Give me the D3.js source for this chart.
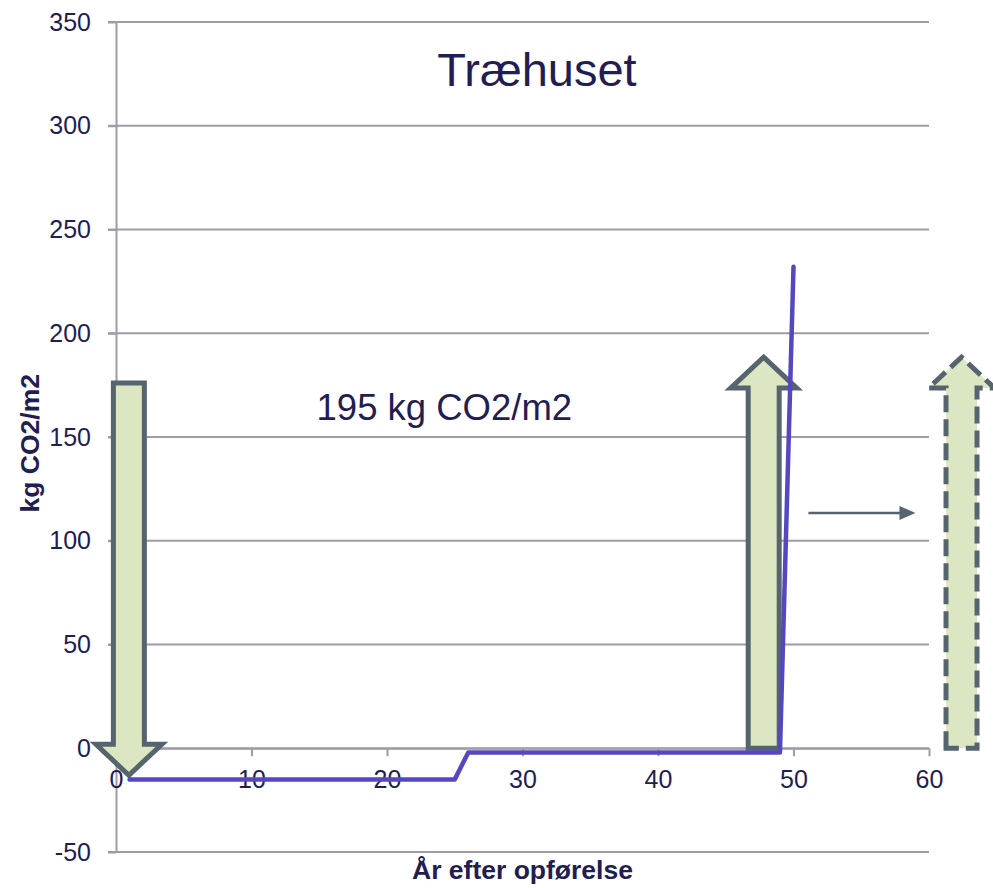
<!DOCTYPE html>
<html>
<head>
<meta charset="utf-8">
<script src="https://cdn.jsdelivr.net/npm/d3@7"></script>
<style>
  body { margin: 0; background: #fff; }
  svg { display: block; font-family: "Liberation Sans", Arial, sans-serif; }
</style>
</head>
<body>
<svg width="993" height="888"></svg>
<script>
// data
let years = [1, 25, 26, 49, 50];
let co2 = [-15, -15, -2, -2, 232];
let xTicks = [0, 10, 20, 30, 40, 50, 60];
let yTicks = [-50, 0, 50, 100, 150, 200, 250, 300, 350];

// block arrows: x centre, start value, end value (tip)
let arrowX = [0.95, 47.8, 62.4];
let arrowFrom = [176, 0, 0];
let arrowTo = [-13, 188.5, 188.5];
let arrowDashed = [false, false, true];

let svg = d3.select("svg"),
    width = +svg.attr("width"),
    height = +svg.attr("height");

let margin = {left: 116, right: 64, top: 22, bottom: 36};
let textColor = "#221d53",
    gridColor = "#9e9ca8",
    arrowStroke = "#56646e",
    arrowFill = "#dce6c3",
    lineColor = "#5548bf";

let x = d3.scaleLinear().domain([0, 60]).range([margin.left, width - margin.right]);
let y = d3.scaleLinear().domain([-50, 350]).range([height - margin.bottom, margin.top]);

// horizontal gridlines
svg.append("g")
    .selectAll("line")
    .data(yTicks)
    .enter().append("line")
    .attr("x1", x(0) - 8)
    .attr("x2", x(60))
    .attr("y1", d => y(d))
    .attr("y2", d => y(d))
    .attr("stroke", gridColor)
    .attr("stroke-width", 2);

// y axis (plain hyphen for negatives, like the original)
let yAxis = svg.append("g")
    .attr("transform", "translate(" + x(0) + ",0)")
    .call(d3.axisLeft(y).tickValues(yTicks).tickFormat(d => String(d))
        .tickSize(8).tickSizeOuter(0).tickPadding(17));

// x axis sits on zero
let xAxis = svg.append("g")
    .attr("transform", "translate(0," + y(0) + ")")
    .call(d3.axisBottom(x).tickValues(xTicks).tickFormat(d => String(d))
        .tickSize(8).tickSizeOuter(0).tickPadding(14));

[yAxis, xAxis].forEach(function(a) {
    a.select(".domain").attr("stroke", gridColor).attr("stroke-width", 2);
    a.selectAll(".tick line").attr("stroke", gridColor).attr("stroke-width", 2);
    a.selectAll(".tick text")
        .attr("fill", textColor)
        .style("font-size", "25px")
        .style("font-family", "'Liberation Sans', Arial, sans-serif");
});

// block arrows
let shaftHalf = 15.5, headHalf = 33, headLen = 31;

function blockArrow(i) {
    let cx = x(arrowX[i]), y0 = y(arrowFrom[i]), y1 = y(arrowTo[i]);
    let dir = y1 > y0 ? 1 : -1;
    let hb = y1 - dir * headLen;
    return "M" + (cx - shaftHalf) + "," + y0 +
        "L" + (cx - shaftHalf) + "," + hb +
        "L" + (cx - headHalf) + "," + hb +
        "L" + cx + "," + y1 +
        "L" + (cx + headHalf) + "," + hb +
        "L" + (cx + shaftHalf) + "," + hb +
        "L" + (cx + shaftHalf) + "," + y0 + "Z";
}

svg.append("g")
    .selectAll("path")
    .data(d3.range(arrowX.length))
    .enter().append("path")
    .attr("d", blockArrow)
    .attr("fill", arrowFill)
    .attr("stroke", arrowStroke)
    .attr("stroke-width", 5)
    .attr("stroke-linejoin", "miter")
    .attr("stroke-dasharray", i => arrowDashed[i] ? "17,7" : null);

// the CO2 line
let line = d3.line()
    .x((d, i) => x(years[i]))
    .y(d => y(d));

svg.append("path")
    .datum(co2)
    .attr("d", line)
    .attr("fill", "none")
    .attr("stroke", lineColor)
    .attr("stroke-width", 4.5)
    .attr("stroke-linejoin", "round")
    .attr("stroke-linecap", "round");

// small pointer arrow
let px0 = x(51.1), px1 = x(59), py = y(113.4);
svg.append("line")
    .attr("x1", px0).attr("x2", px1 - 14)
    .attr("y1", py).attr("y2", py)
    .attr("stroke", arrowStroke)
    .attr("stroke-width", 2.5);
svg.append("path")
    .attr("d", "M" + (px1 - 16) + "," + (py - 7) + "L" + px1 + "," + py + "L" + (px1 - 16) + "," + (py + 7) + "Z")
    .attr("fill", arrowStroke);

// texts
svg.append("text")
    .attr("x", 537)
    .attr("y", 86)
    .attr("text-anchor", "middle")
    .attr("fill", textColor)
    .style("font-size", "47px")
    .text("Træhuset");

svg.append("text")
    .attr("x", x(14.8))
    .attr("y", y(158))
    .attr("fill", textColor)
    .style("font-size", "36.5px")
    .text("195 kg CO2/m2");

svg.append("text")
    .attr("x", x(30))
    .attr("y", 879)
    .attr("text-anchor", "middle")
    .attr("fill", textColor)
    .style("font-size", "26.5px")
    .style("font-weight", "bold")
    .text("År efter opførelse");

svg.append("text")
    .attr("transform", "translate(39," + y(147) + ") rotate(-90)")
    .attr("text-anchor", "middle")
    .attr("fill", textColor)
    .style("font-size", "26.5px")
    .style("font-weight", "bold")
    .text("kg CO2/m2");
</script>
</body>
</html>
